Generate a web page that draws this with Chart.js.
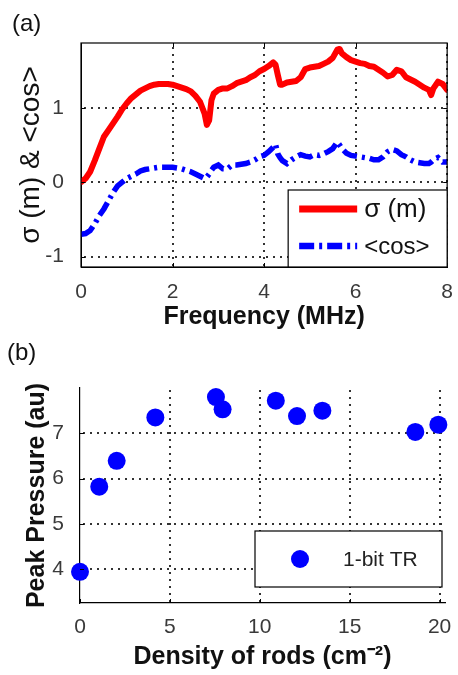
<!DOCTYPE html>
<html><head><meta charset="utf-8">
<script src="https://cdn.jsdelivr.net/npm/chart.js@4.4.1/dist/chart.umd.min.js"></script>
<style>
body{margin:0;background:#fff;width:458px;height:675px;overflow:hidden;position:relative;font-family:"Liberation Sans",Arial,sans-serif;}
.panel{position:absolute;left:0;}
canvas{display:block;}
.lab{position:absolute;font-size:24px;color:#111;line-height:28px;}
</style></head><body>
<div class="panel" style="top:0"><canvas id="ca" width="458" height="335"></canvas></div>
<div class="panel" style="top:335px"><canvas id="cb" width="458" height="340"></canvas></div>
<div class="lab" style="left:12px;top:9px">(a)</div>
<div class="lab" style="left:7px;top:338px">(b)</div>
<script>
// ---- Panel (a) data ----
const freq = [0,0.1,0.2,0.3,0.4,0.5,0.6,0.7,0.8,0.9,1.0,1.1,1.2,1.3,1.4,1.5,1.6,1.7,1.8,1.9,2.0,2.1,2.2,2.3,2.4,2.5,2.6,2.7,2.75,2.8,2.85,2.9,3.0,3.1,3.2,3.3,3.4,3.5,3.6,3.7,3.8,3.9,4.0,4.1,4.2,4.25,4.3,4.35,4.4,4.5,4.6,4.7,4.8,4.9,5.0,5.1,5.2,5.3,5.4,5.5,5.6,5.65,5.7,5.8,5.9,6.0,6.1,6.2,6.3,6.4,6.5,6.6,6.7,6.8,6.9,7.0,7.1,7.2,7.3,7.4,7.5,7.6,7.65,7.7,7.8,7.9,8.0];
const sigma = [0.0,0.05,0.14,0.29,0.45,0.61,0.70,0.79,0.88,0.98,1.06,1.13,1.18,1.23,1.26,1.29,1.31,1.32,1.32,1.32,1.31,1.29,1.27,1.25,1.22,1.16,1.08,0.92,0.77,0.83,1.10,1.19,1.24,1.26,1.26,1.29,1.33,1.35,1.37,1.41,1.44,1.49,1.52,1.56,1.61,1.58,1.44,1.31,1.31,1.34,1.35,1.36,1.41,1.52,1.54,1.55,1.56,1.59,1.62,1.67,1.78,1.79,1.73,1.68,1.64,1.62,1.60,1.59,1.56,1.55,1.51,1.47,1.42,1.44,1.51,1.49,1.41,1.38,1.35,1.31,1.27,1.24,1.17,1.26,1.35,1.32,1.24];
const cosMean = [-0.70,-0.69,-0.65,-0.56,-0.45,-0.36,-0.25,-0.14,-0.05,0.0,0.05,0.08,0.11,0.15,0.17,0.18,0.19,0.20,0.20,0.20,0.20,0.19,0.18,0.16,0.14,0.11,0.08,0.05,0.07,0.11,0.16,0.20,0.23,0.18,0.18,0.23,0.23,0.24,0.25,0.27,0.30,0.34,0.36,0.41,0.47,0.51,0.38,0.33,0.29,0.25,0.30,0.34,0.37,0.35,0.34,0.37,0.36,0.38,0.41,0.45,0.54,0.50,0.45,0.39,0.36,0.35,0.34,0.33,0.32,0.30,0.30,0.34,0.41,0.44,0.42,0.37,0.34,0.30,0.27,0.26,0.25,0.25,0.27,0.30,0.33,0.27,0.27];
const xTicksA = [0,2,4,6,8];
const yTicksA = [-1,0,1];
const seriesNamesA = ['σ (m)','<cos>'];

// ---- Panel (b) data ----
const density = [0,1.07,2.04,4.19,7.56,7.93,10.89,12.07,13.48,18.65,19.93];
const peakPressure = [3.94,5.82,6.39,7.35,7.80,7.53,7.72,7.38,7.50,7.03,7.19];
const xTicksB = [0,5,10,15,20];
const yTicksB = [4,5,6,7];
const seriesNameB = '1-bit TR';

const FONT = '"Liberation Sans", Arial, sans-serif';
const tickColor = '#3a3a3a';

function setTicks(arr){ return s => { s.ticks = arr.map(v=>({value:v})); }; }

// dotted grid + inward tick marks, positioned through the chart's scales
function drawDottedGrid(chart){
  const {ctx, chartArea:a, scales} = chart;
  ctx.save();
  ctx.fillStyle = '#333';
  scales.x.ticks.forEach(t=>{
    const px = Math.round(scales.x.getPixelForValue(t.value));
    if (px <= a.left+1) return;
    for (let y=a.bottom-3; y>a.top; y-=7) ctx.fillRect(px-1, y, 2, 2);
  });
  scales.y.ticks.forEach(t=>{
    const py = Math.round(scales.y.getPixelForValue(t.value));
    if (py >= a.bottom-1) return;
    for (let x=a.left+3; x<a.right; x+=7) ctx.fillRect(x, py-1, 2, 2);
  });
  ctx.restore();
}
function drawTickMarks(chart, both){
  const {ctx, chartArea:a, scales} = chart;
  ctx.save();
  ctx.strokeStyle='#000'; ctx.lineWidth=1;
  ctx.beginPath();
  scales.x.ticks.forEach(t=>{
    const px = Math.round(scales.x.getPixelForValue(t.value))+0.5;
    ctx.moveTo(px, a.bottom); ctx.lineTo(px, a.bottom-4);
    if (both){ ctx.moveTo(px, a.top); ctx.lineTo(px, a.top+4); }
  });
  scales.y.ticks.forEach(t=>{
    const py = Math.round(scales.y.getPixelForValue(t.value))+0.5;
    ctx.moveTo(a.left, py); ctx.lineTo(a.left+4, py);
    if (both){ ctx.moveTo(a.right, py); ctx.lineTo(a.right-4, py); }
  });
  ctx.stroke();
  ctx.restore();
}

const panelA = {
  id:'panelA',
  beforeDatasetsDraw(chart){ drawDottedGrid(chart); },
  afterDraw(chart){
    const {ctx, chartArea:a} = chart;
    drawTickMarks(chart, true);
    ctx.save();
    ctx.strokeStyle='#000'; ctx.lineWidth=1.2; ctx.setLineDash([]);
    ctx.strokeRect(a.left, a.top, a.right-a.left, a.bottom-a.top);
    // legend
    const w=159, h=77, x=a.right-w, y=a.bottom-h;
    ctx.fillStyle='#fff'; ctx.fillRect(x,y,w,h);
    ctx.strokeRect(x, y, w, h);
    chart.data.datasets.forEach((ds,i)=>{
      const ly = y + 19 + i*37;
      ctx.beginPath();
      ctx.setLineDash(ds.borderDash||[]);
      ctx.lineWidth = ds.borderWidth+1;
      ctx.strokeStyle = ds.borderColor;
      ctx.lineCap='butt';
      ctx.moveTo(x+11, ly); ctx.lineTo(x+69, ly); ctx.stroke();
      ctx.setLineDash([]);
      ctx.fillStyle='#111';
      ctx.font = (i===0?'26px ':'24px ')+FONT;
      ctx.textBaseline='middle'; ctx.textAlign='left';
      ctx.fillText(ds.label, x+76, ly+1);
    });
    ctx.restore();
  }
};

new Chart(document.getElementById('ca'), {
  type:'line',
  data:{
    datasets:[
      {label:seriesNamesA[0], data:freq.map((f,i)=>({x:f,y:sigma[i]})), borderColor:'#ff0000', backgroundColor:'#ff0000', borderWidth:6, pointRadius:0, tension:0, borderJoinStyle:'round', borderCapStyle:'round'},
      {label:seriesNamesA[1], data:freq.map((f,i)=>({x:f,y:cosMean[i]})), borderColor:'#0000ff', backgroundColor:'#0000ff', borderWidth:5.5, borderDash:[15,5,3,5], pointRadius:0, tension:0}
    ]
  },
  options:{
    responsive:false, animation:false, events:[],
    layout:{padding:{left:0,right:5,top:43,bottom:0}},
    plugins:{legend:{display:false}, tooltip:{enabled:false}},
    scales:{
      x:{type:'linear', min:0, max:8, afterBuildTicks:setTicks(xTicksA), afterFit:s=>{s.height=68;},
         grid:{display:false}, border:{display:true,color:'#000'},
         ticks:{color:tickColor,padding:5,font:{family:FONT,size:21}},
         title:{display:true,text:'Frequency (MHz)',color:'#111',font:{family:FONT,size:25,weight:'bold'},padding:{top:0,bottom:3}}},
      y:{type:'linear', min:-1.14, max:1.87, afterBuildTicks:setTicks(yTicksA), afterFit:s=>{s.width=81;},
         grid:{display:false}, border:{display:true,color:'#000'},
         ticks:{color:tickColor,padding:9,font:{family:FONT,size:21}},
         title:{display:true,text:'σ (m) & <cos>',color:'#111',font:{family:FONT,size:28},padding:{top:14,bottom:0}}}
    }
  },
  plugins:[panelA]
});

const panelB = {
  id:'panelB',
  beforeDatasetsDraw(chart){ drawDottedGrid(chart); },
  afterDraw(chart){
    const {ctx, chartArea:a} = chart;
    drawTickMarks(chart, false);
    ctx.save();
    const w=187, h=56, x=a.right-3-w, y=a.bottom-16-h;
    ctx.fillStyle='#fff'; ctx.fillRect(x,y,w,h);
    ctx.strokeStyle='#000'; ctx.lineWidth=1.2; ctx.strokeRect(x,y,w,h);
    const ds = chart.data.datasets[0];
    ctx.fillStyle = ds.backgroundColor;
    ctx.beginPath(); ctx.arc(x+45, y+h/2, ds.pointRadius, 0, Math.PI*2); ctx.fill();
    ctx.fillStyle='#222'; ctx.font='21px '+FONT; ctx.textBaseline='middle'; ctx.textAlign='left';
    ctx.fillText(ds.label, x+88, y+h/2+1);
    ctx.restore();
  }
};

new Chart(document.getElementById('cb'), {
  type:'scatter',
  data:{
    datasets:[
      {label:seriesNameB, data:density.map((d,i)=>({x:d,y:peakPressure[i]})), backgroundColor:'#0000ff', borderColor:'#0000ff', pointRadius:9, pointBorderWidth:0, clip:false}
    ]
  },
  options:{
    responsive:false, animation:false, events:[],
    layout:{padding:{left:0,right:13,top:53,bottom:0}},
    plugins:{legend:{display:false}, tooltip:{enabled:false}},
    scales:{
      x:{type:'linear', min:0, max:20.3, afterBuildTicks:setTicks(xTicksB), afterFit:s=>{s.height=72;},
         grid:{display:false}, border:{display:true,color:'#000',width:1.2},
         ticks:{color:tickColor,padding:4,font:{family:FONT,size:21}},
         title:{display:true,text:'Density of rods (cm⁻²)',color:'#111',font:{family:FONT,size:25,weight:'bold'},padding:{top:0,bottom:3}}},
      y:{type:'linear', min:3.25, max:8, afterBuildTicks:setTicks(yTicksB), afterFit:s=>{s.width=80;},
         grid:{display:false}, border:{display:true,color:'#000',width:1.2},
         ticks:{color:tickColor,padding:8,font:{family:FONT,size:21}},
         title:{display:true,text:'Peak Pressure (au)',color:'#111',font:{family:FONT,size:25,weight:'bold'},padding:{top:22,bottom:0}}}
    }
  },
  plugins:[panelB]
});
</script>
</body></html>
